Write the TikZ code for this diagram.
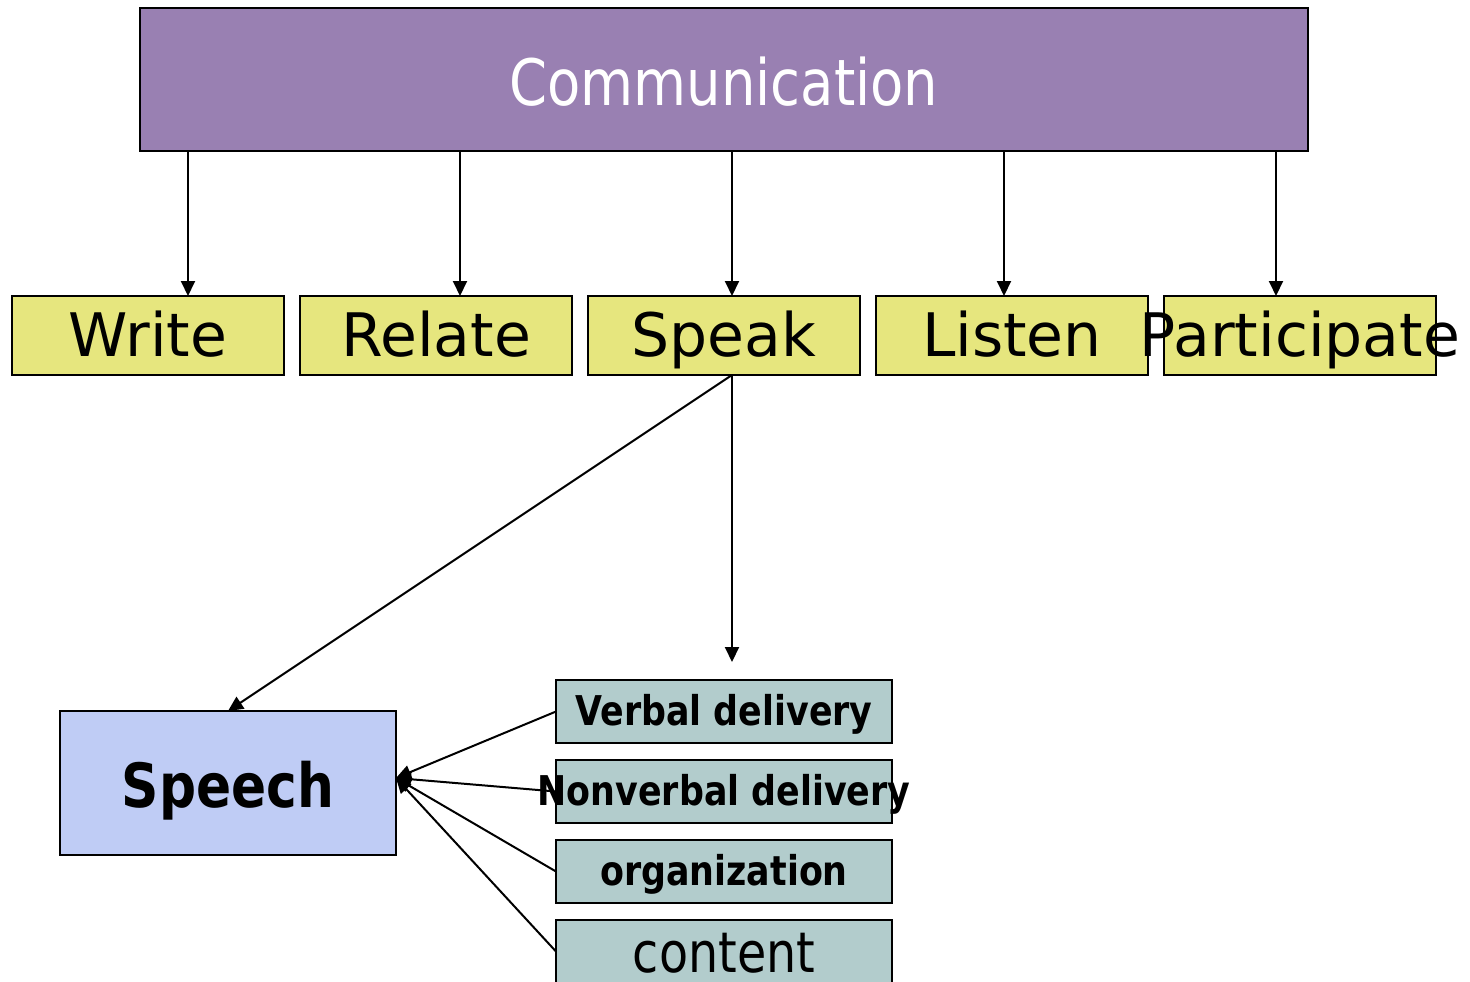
\documentclass[tikz,border=0pt]{standalone}
\usepackage{fontspec}
\setmainfont{DejaVu Sans}
\newfontfamily\narrowfont[FakeStretch=0.85]{DejaVu Sans}
\usetikzlibrary{arrows.meta}
\definecolor{commfill}{HTML}{9980B2}
\definecolor{yfill}{HTML}{E6E67E}
\definecolor{sfill}{HTML}{BFCCF5}
\definecolor{tfill}{HTML}{B2CCCC}
\newcommand{\zw}[1]{\makebox[0pt]{#1}}
\tikzset{
 box/.style={draw=black, line width=2pt, inner sep=0pt, outer sep=0pt},
 topbox/.style={box, fill=commfill, minimum width=1168pt, minimum height=143pt, text=white, font=\narrowfont\fontsize{64}{66}\selectfont, text height=51pt, text depth=0pt},
 ybox/.style={box, fill=yfill, minimum width=272pt, minimum height=79pt, font=\fontsize{60}{62}\selectfont, text height=41pt, text depth=0pt},
 sbox/.style={box, fill=sfill, minimum width=336pt, minimum height=144pt, font=\narrowfont\bfseries\fontsize{61}{64}\selectfont, text height=48pt, text depth=0pt},
 tbox/.style={box, fill=tfill, minimum width=336pt, minimum height=63pt, font=\narrowfont\bfseries\fontsize{41}{44}\selectfont, text height=27pt, text depth=0pt},
 cbox/.style={tbox, font=\narrowfont\fontsize{56}{60}\selectfont, text height=41pt},
 arr/.style={-{Triangle[length=15pt,width=14pt]}, line width=2pt},
}
\begin{document}
\begin{tikzpicture}[x=1pt,y=-1pt]
\useasboundingbox (0,0) rectangle (1470,982);
\clip (0,0) rectangle (1470,982);
\node[topbox] (comm) at (724,79.5) {Communication};
\node[ybox] (write) at (148,335.5) {\zw{Write}};
\node[ybox] (relate) at (436,335.5) {\zw{Relate}};
\node[ybox] (speak) at (724,335.5) {\zw{Speak}};
\node[ybox] (listen) at (1012,335.5) {\zw{Listen}};
\node[ybox] (part) at (1300,335.5) {\zw{Participate}};
\node[sbox] (speech) at (228,783) {\zw{Speech}};
\node[tbox] (verbal) at (724,711.5) {\zw{Verbal delivery}};
\node[tbox] (nonverbal) at (724,791.5) {\zw{Nonverbal delivery}};
\node[tbox] (org) at (724,871.5) {\zw{organization}};
\node[cbox] (content) at (724,951.5) {\zw{content}};
\coordinate (c1) at (188,151);
\coordinate (c2) at (460,151);
\coordinate (c3) at (732,151);
\coordinate (c4) at (1004,151);
\coordinate (c5) at (1276,151);
\draw[arr] (c1) -- (c1 |- write.north);
\draw[arr] (c2) -- (c2 |- relate.north);
\draw[arr] (c3) -- (c3 |- speak.north);
\draw[arr] (c4) -- (c4 |- listen.north);
\draw[arr] (c5) -- (c5 |- part.north);
\coordinate (sk) at (c3 |- speak.south);
\coordinate (skend) at (732,662);
\draw[arr] (sk) -- (speech.north);
\draw[arr] (sk) -- (skend);
\coordinate (sin) at ([yshift=5pt]speech.east);
\draw[arr] (verbal.west) -- (sin);
\draw[arr] (nonverbal.west) -- (sin);
\draw[arr] (org.west) -- (sin);
\draw[arr] (content.west) -- (sin);
\end{tikzpicture}
\end{document}
